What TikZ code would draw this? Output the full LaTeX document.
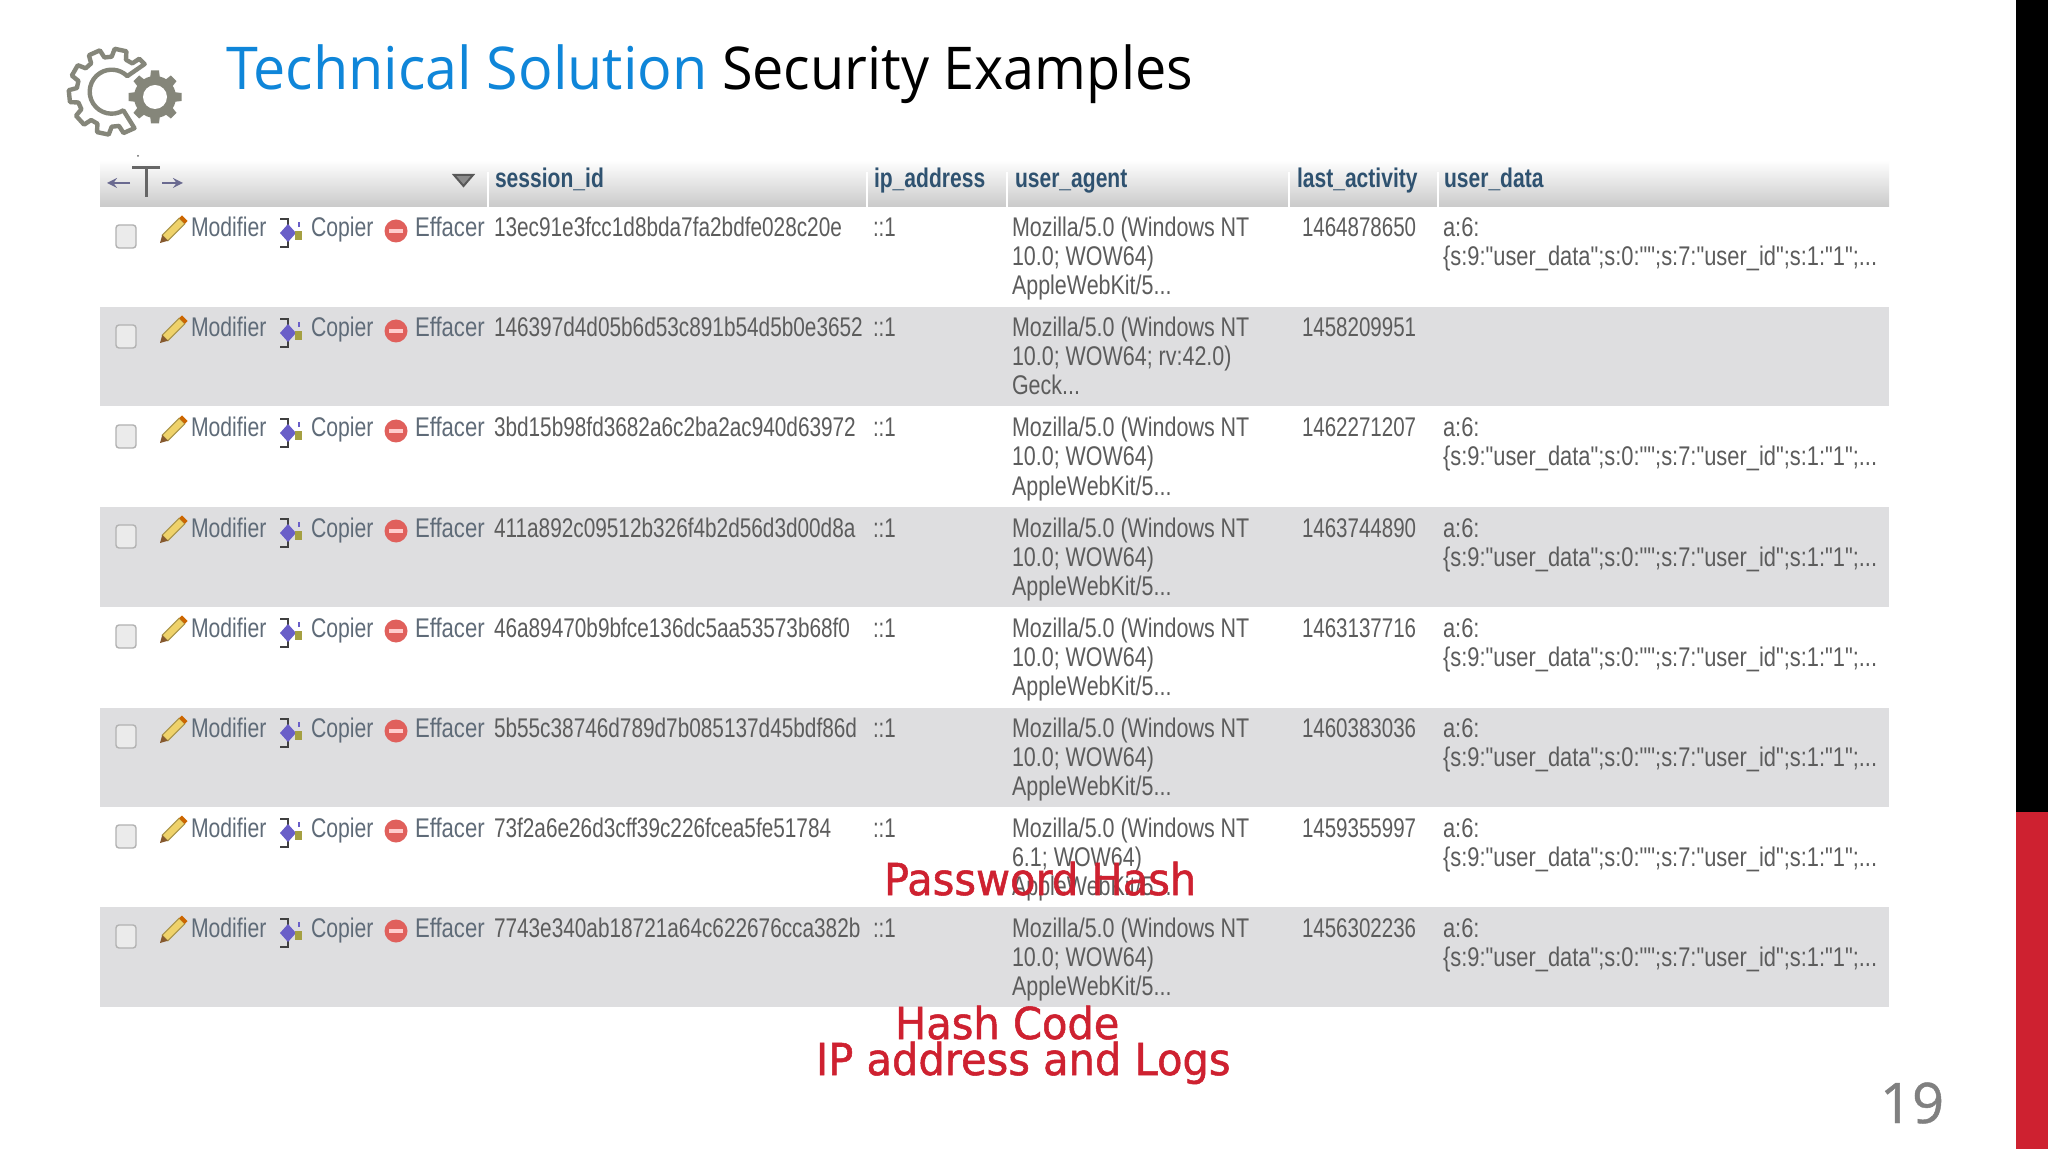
\documentclass[tikz,border=0pt]{standalone}
\usepackage{fontspec}
\setmainfont{Liberation Sans}
\newfontfamily\tb[FakeStretch=0.76]{Liberation Sans}
\newfontfamily\tbua[FakeStretch=0.795]{Liberation Sans}
\newfontfamily\tbsid[FakeStretch=0.77]{Liberation Sans}
\newfontfamily\tbud[FakeStretch=0.81]{Liberation Sans}
\newfontfamily\tbmod[FakeStretch=0.785]{Liberation Sans}
\newfontfamily\tbeff[FakeStretch=0.82]{Liberation Sans}
\newfontfamily\tbhead[FakeStretch=0.78]{Liberation Sans}
\newfontfamily\ttla[FakeStretch=0.973]{Open Sans}
\newfontfamily\ttlb[FakeStretch=0.945]{Open Sans}
\newfontfamily\ttl[FakeBold=0.8]{Open Sans}
\newfontfamily\lab[FakeStretch=0.945,FakeBold=1.2]{DejaVu Sans}
\definecolor{titleblue}{HTML}{0F86D9}
\definecolor{rowgrey}{HTML}{DEDEE0}
\definecolor{labred}{HTML}{CE2130}
\definecolor{gearc}{HTML}{85867A}
\definecolor{celltxt}{HTML}{5C5C5C}
\definecolor{acttxt}{HTML}{5F6B78}
\definecolor{headtxt}{HTML}{2F5270}
\definecolor{arrowc}{HTML}{6A6A90}
\definecolor{copyc}{HTML}{6A5FC8}
\definecolor{pencilc}{HTML}{EFD26A}
\definecolor{delc}{HTML}{E0605C}
\newcommand\UDline{\{s:9:"user\_data";s:0:"";s:7:"user\_id";s:1:"1";...}
\newcommand\AWline{AppleWebKit/5...}
\newcommand\GKline{Geck...}
\tikzset{
  txt/.style={anchor=base west,inner sep=0pt,outer sep=0pt},
  cell/.style={txt,text=celltxt,font=\tb\fontsize{13.5}{15}\selectfont},
  cellua/.style={cell,font=\tbua\fontsize{13.5}{15}\selectfont},
  cellsid/.style={cell,font=\tbsid\fontsize{13.5}{15}\selectfont},
  cellud/.style={cell,font=\tbud\fontsize{13.5}{15}\selectfont},
  actm/.style={txt,text=acttxt,font=\tbmod\fontsize{13.5}{15}\selectfont},
  acte/.style={txt,text=acttxt,font=\tbeff\fontsize{13.5}{15}\selectfont},
  head/.style={txt,text=headtxt,font=\tbhead\bfseries\fontsize{13.5}{15}\selectfont},
  redlab/.style={txt,text=labred,font=\lab\fontsize{22}{24}\selectfont},
  pics/rowicons/.style={code={
    % checkbox
    \draw[rounded corners=1.5pt,draw=black!30,fill=black!8,line width=.7pt] (116,18) rectangle (136,41);
    % pencil
    \draw[pencilc!70!black,fill=pencilc,line width=.5pt] (162.2,28.2) -- (179.2,11.2) -- (184.8,16.8) -- (167.8,33.8) -- cycle;
    \fill[orange!80!black] (179.2,11.2) -- (182,8.5) -- (187.5,14) -- (184.8,16.8) -- cycle;
    \fill[brown!70!black] (162.2,28.2) -- (167.8,33.8) -- (160,36) -- cycle;
    % copy
    \draw[black!75,line width=.9pt] (280,12) -- (288,12) -- (288,40) -- (280,40);
    \fill[copyc] (280,26) -- (288,17) -- (296,26) -- (288,35) -- cycle;
    \fill[yellow!60!black] (295,24) rectangle (302,33);
    \fill[copyc] (298,15) rectangle (300,20);
    % delete
    \fill[delc] (396,24) circle (11.5);
    \fill[white!80!red] (389,22) rectangle (403,26);
  }}
}
\begin{document}
\begin{tikzpicture}[x=0.5pt,y=-0.5pt]
\useasboundingbox (0,0) rectangle (2048,1149);
\fill[white] (0,0) rectangle (2048,1149);
\fill[black] (2016,0) rectangle (2048,812);
\fill[labred] (2016,812) rectangle (2048,1149);

% gears
\begin{scope}[shift={(111.7,91.7)},yscale=-1,line width=2.2pt,line join=round]
  \draw[gearc] (40:43)
    \foreach \a in {50,86,...,266}{
      -- (\a:43) -- (\a+4:35) -- (\a+16:35) -- (\a+20:43) -- (\a+36:43)
    }
    -- (302:22) arc[start angle=302,end angle=45,radius=22] -- cycle;
\end{scope}
\begin{scope}[shift={(155,97)},yscale=-1]
  \fill[gearc] (0,0) circle (21);
  \foreach \a in {0,45,...,315}{
    \fill[gearc,rotate=\a] (-5,18) -- (5,18) -- (4,26.5) -- (-4,26.5) -- cycle;
  }
  \fill[white] (0,0) circle (12);
\end{scope}

% title
\node[txt,text=titleblue,font=\ttla\fontsize{29.5}{32}\selectfont] (t1) at (226,90) {Technical Solution};
\node[txt,text=black,font=\ttlb\fontsize{29.5}{32}\selectfont] (t2) at (722,90) {Security Examples};

% rows
\foreach \i/\ytop in {1/307,3/507,5/707.5,7/907}{
  \fill[rowgrey] (100,\ytop) rectangle (1889,\ytop+99.5);
}

% header
\shade[top color=white,bottom color=black!21] (100,160) rectangle (1889,207);
\foreach \x in {488,867,1007,1289,1438}{
  \draw[white,line width=.8pt] (\x,172) -- (\x,207);
}
\draw[arrowc,line width=1.2pt,->,>=stealth] (130,183) -- (107,183);
\draw[arrowc,line width=1.2pt,->,>=stealth] (162,183) -- (183,183);
\draw[black!60,line width=1.5pt] (132,168) -- (160,168) (146,168) -- (146,197);
\fill[black!60] (138,156) circle (1);
\draw[black!65,fill=black!45,line width=1pt] (454,175) -- (473,175) -- (463.5,186) -- cycle;
\node[head] (h1) at (495,188) {session\_id};
\node[head] (h2) at (874,188) {ip\_address};
\node[head] (h3) at (1015,188) {user\_agent};
\node[head] (h4) at (1297,188) {last\_activity};
\node[head] (h5) at (1444,188) {user\_data};

\foreach \n/\ytop/\sid/\lb/\lc/\act/\da/\db in {
 1/207/13ec91e3fcc1d8bda7fa2bdfe028c20e/10.0; WOW64)/\AWline/1464878650/a:6:/\UDline,
 2/307/146397d4d05b6d53c891b54d5b0e3652/10.0; WOW64; rv:42.0)/\GKline/1458209951/{}/{},
 3/407/3bd15b98fd3682a6c2ba2ac940d63972/10.0; WOW64)/\AWline/1462271207/a:6:/\UDline,
 4/507/411a892c09512b326f4b2d56d3d00d8a/10.0; WOW64)/\AWline/1463744890/a:6:/\UDline,
 5/607/46a89470b9bfce136dc5aa53573b68f0/10.0; WOW64)/\AWline/1463137716/a:6:/\UDline,
 6/707/5b55c38746d789d7b085137d45bdf86d/10.0; WOW64)/\AWline/1460383036/a:6:/\UDline,
 7/807/73f2a6e26d3cff39c226fcea5fe51784/6.1; WOW64)/\AWline/1459355997/a:6:/\UDline,
 8/907/7743e340ab18721a64c622676cca382b/10.0; WOW64)/\AWline/1456302236/a:6:/\UDline%
}{
  \pic at (0,\ytop) {rowicons};
  \node[actm] (m\n) at (191,\ytop+30) {Modifier};
  \node[actm] (c\n) at (311,\ytop+30) {Copier};
  \node[acte] (e\n) at (415,\ytop+30) {Effacer};
  \node[cellsid] (s\n) at (494,\ytop+30) {\sid};
  \node[cell] (i\n) at (873,\ytop+30) {::1};
  \node[cellua] (ua\n) at (1012,\ytop+30) {Mozilla/5.0 (Windows NT};
  \node[cellua] (ub\n) at (1012,\ytop+59) {\lb};
  \node[cellua] (uc\n) at (1012,\ytop+88) {\lc};
  \node[cell] (la\n) at (1302,\ytop+30) {\act};
  \node[cellud] (da\n) at (1443,\ytop+30) {\da};
  \node[cellud] (db\n) at (1443,\ytop+59) {\db};
}

% red labels
\node[redlab] (r1) at (884,895) {Password Hash};
\node[redlab] (r2) at (895,1039) {Hash Code};
\node[redlab] (r3) at (816,1075) {IP address and Logs};

% page number
\node[txt,text=black!50,font=\ttl\fontsize{28}{30}\selectfont] (pg) at (1880,1123) {19};
\end{tikzpicture}
\end{document}
